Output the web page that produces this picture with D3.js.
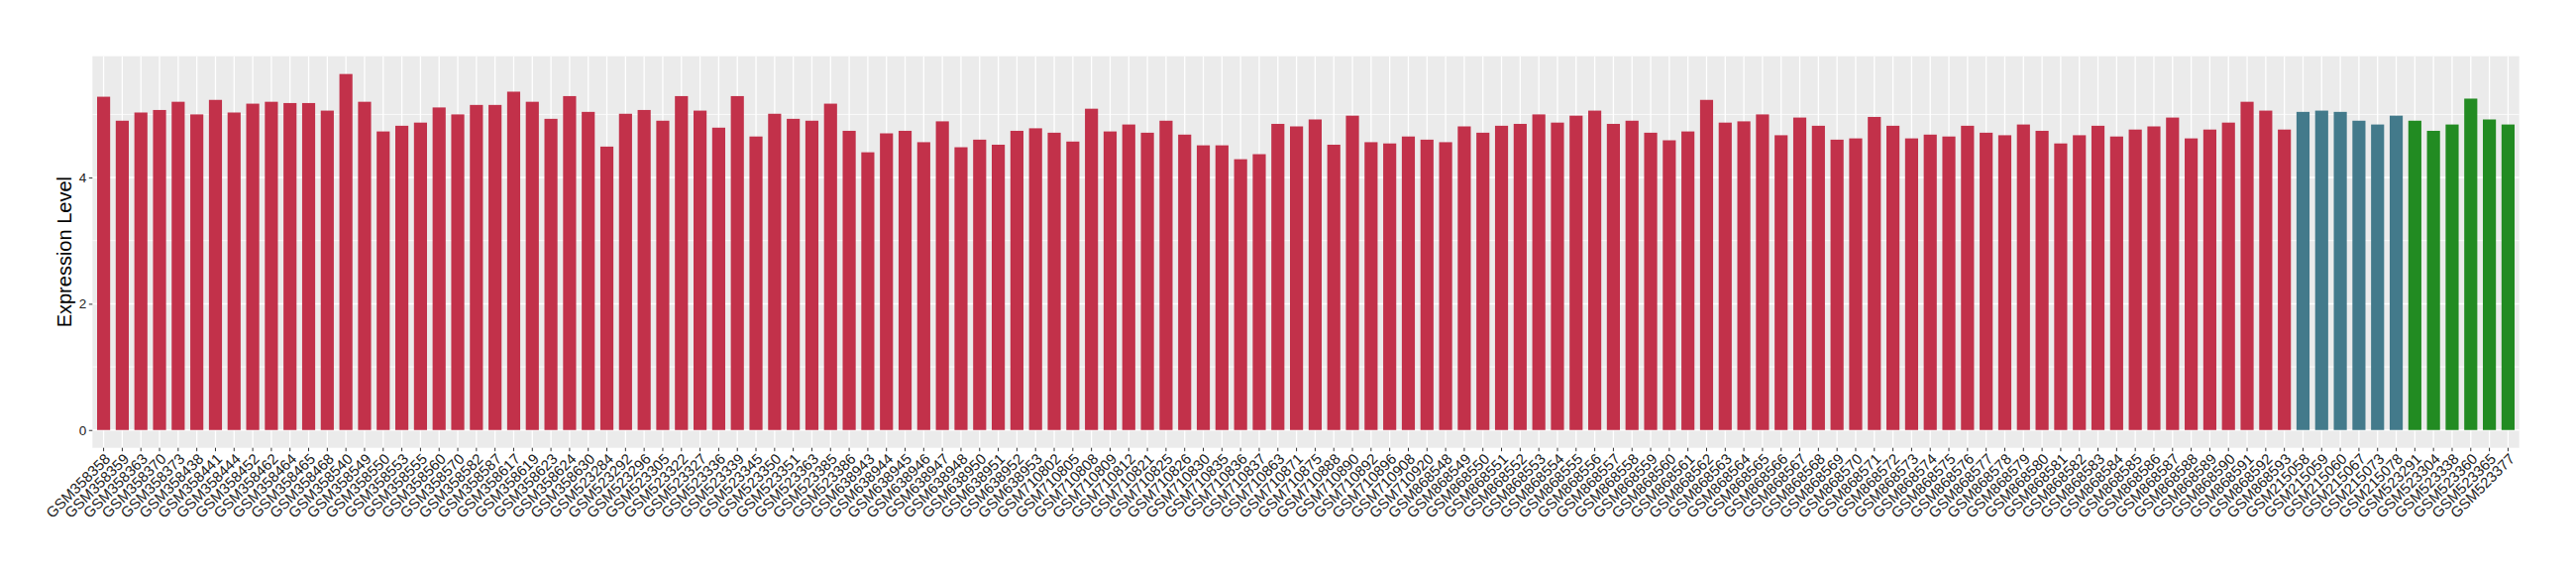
<!DOCTYPE html>
<html>
<head>
<meta charset="utf-8">
<script src="https://cdn.jsdelivr.net/npm/d3@7"></script>
<style>
  html, body { margin: 0; padding: 0; background: #fff; }
  svg { display: block; font-family: "Liberation Sans", Arial, Helvetica, sans-serif; }
</style>
</head>
<body>
<svg id="chart" width="2600" height="580"></svg>
<script>
// ---- data ----
const redSamples = [
  "GSM358358","GSM358359","GSM358363","GSM358370","GSM358373","GSM358438","GSM358441","GSM358444","GSM358452","GSM358462",
  "GSM358464","GSM358465","GSM358468","GSM358540","GSM358549","GSM358550","GSM358553","GSM358555","GSM358560","GSM358570",
  "GSM358582","GSM358587","GSM358617","GSM358619","GSM358623","GSM358624","GSM358630","GSM523284","GSM523292","GSM523296",
  "GSM523305","GSM523322","GSM523327","GSM523336","GSM523339","GSM523345","GSM523350","GSM523351","GSM523363","GSM523385",
  "GSM523386","GSM638943","GSM638944","GSM638945","GSM638946","GSM638947","GSM638948","GSM638950","GSM638951","GSM638952",
  "GSM638953","GSM710802","GSM710805","GSM710808","GSM710809","GSM710812","GSM710821","GSM710825","GSM710826","GSM710830",
  "GSM710835","GSM710836","GSM710837","GSM710863","GSM710871","GSM710875","GSM710888","GSM710890","GSM710892","GSM710896",
  "GSM710908","GSM710920","GSM868548","GSM868549","GSM868550","GSM868551","GSM868552","GSM868553","GSM868554","GSM868555",
  "GSM868556","GSM868557","GSM868558","GSM868559","GSM868560","GSM868561","GSM868562","GSM868563","GSM868564","GSM868565",
  "GSM868566","GSM868567","GSM868568","GSM868569","GSM868570","GSM868571","GSM868572","GSM868573","GSM868574","GSM868575",
  "GSM868576","GSM868577","GSM868578","GSM868579","GSM868580","GSM868581","GSM868582","GSM868583","GSM868584","GSM868585",
  "GSM868586","GSM868587","GSM868588","GSM868589","GSM868590","GSM868591","GSM868592","GSM868593"
];
const redValues = [
  5.28,4.90,5.03,5.07,5.20,5.00,5.23,5.03,5.17,5.20,
  5.18,5.18,5.06,5.64,5.20,4.73,4.82,4.87,5.11,5.00,
  5.15,5.15,5.36,5.20,4.93,5.29,5.04,4.49,5.01,5.07,
  4.90,5.29,5.06,4.79,5.29,4.65,5.01,4.93,4.90,5.17,
  4.74,4.40,4.70,4.74,4.56,4.89,4.48,4.60,4.52,4.74,
  4.78,4.71,4.57,5.09,4.73,4.84,4.71,4.90,4.68,4.51,
  4.51,4.29,4.37,4.85,4.81,4.92,4.52,4.98,4.56,4.54,
  4.65,4.60,4.56,4.81,4.71,4.82,4.85,5.00,4.87,4.98,
  5.06,4.85,4.90,4.71,4.59,4.73,5.23,4.87,4.89,5.00,
  4.67,4.95,4.82,4.60,4.62,4.96,4.82,4.62,4.68,4.65,
  4.82,4.71,4.67,4.84,4.74,4.54,4.67,4.82,4.65,4.76,
  4.81,4.95,4.62,4.76,4.87,5.20,5.06,4.76
];
const blueSamples = ["GSM215058","GSM215059","GSM215060","GSM215067","GSM215073","GSM215078"];
const blueValues  = [5.04,5.06,5.04,4.90,4.84,4.98];
const greenSamples = ["GSM523291","GSM523304","GSM523338","GSM523360","GSM523365","GSM523377"];
const greenValues  = [4.90,4.74,4.84,5.25,4.92,4.84];
const yTicks = [0, 2, 4];
const yMinorTicks = [1, 3, 5];
const yTitle = "Expression Level";

const groupColors = { red: "#C2314A", blue: "#437A8B", green: "#228B22" };

// table built from the arrays
const rows = [];
redSamples.forEach((s, i) => rows.push({ sample: s, value: redValues[i], group: "red" }));
blueSamples.forEach((s, i) => rows.push({ sample: s, value: blueValues[i], group: "blue" }));
greenSamples.forEach((s, i) => rows.push({ sample: s, value: greenValues[i], group: "green" }));

// ---- layout ----
const panel = { left: 93.3, right: 2542.7, top: 56.7, bottom: 451.7 };
const svg = d3.select("#chart");

const x = d3.scaleBand()
  .domain(rows.map(d => d.sample))
  .range([panel.left, panel.right])
  .paddingInner(0.3)
  .paddingOuter(0.25);

const maxV = d3.max(rows, d => d.value);
const y = d3.scaleLinear()
  .domain([-0.05 * maxV, 1.05 * maxV])
  .range([panel.bottom, panel.top]);

const cx = d => x(d) + x.bandwidth() / 2;

// panel background
svg.append("rect")
  .attr("x", panel.left).attr("y", panel.top)
  .attr("width", panel.right - panel.left)
  .attr("height", panel.bottom - panel.top)
  .attr("fill", "#EBEBEB");

// minor horizontal grid
svg.append("g").selectAll("line").data(yMinorTicks).join("line")
  .attr("x1", panel.left).attr("x2", panel.right)
  .attr("y1", d => y(d)).attr("y2", d => y(d))
  .attr("stroke", "#fff").attr("stroke-width", 0.8);

// major horizontal grid
svg.append("g").selectAll("line").data(yTicks).join("line")
  .attr("x1", panel.left).attr("x2", panel.right)
  .attr("y1", d => y(d)).attr("y2", d => y(d))
  .attr("stroke", "#fff").attr("stroke-width", 1.5);

// vertical grid
svg.append("g").selectAll("line").data(rows).join("line")
  .attr("x1", d => cx(d.sample)).attr("x2", d => cx(d.sample))
  .attr("y1", panel.top).attr("y2", panel.bottom)
  .attr("stroke", "#fff").attr("stroke-width", 1.3);

// bars
svg.append("g").selectAll("rect").data(rows).join("rect")
  .attr("x", d => x(d.sample))
  .attr("width", x.bandwidth())
  .attr("y", d => y(d.value))
  .attr("height", d => y(0) - y(d.value))
  .attr("fill", d => groupColors[d.group]);

// y axis
const yAxis = d3.axisLeft(y).tickValues(yTicks).tickSize(3.5).tickPadding(2.5).tickFormat(d3.format("d"));
const gy = svg.append("g").attr("transform", `translate(${panel.left},0)`).call(yAxis);
gy.select(".domain").remove();
gy.selectAll(".tick line").attr("stroke", "#333").attr("stroke-width", 1);
gy.selectAll(".tick text").attr("fill", "#222").attr("font-size", 13.5)
  .attr("font-family", "'Liberation Sans', Arial, sans-serif");

// x axis
const xAxis = d3.axisBottom(x).tickSize(3.5).tickPadding(0);
const gx = svg.append("g").attr("transform", `translate(0,${panel.bottom})`).call(xAxis);
gx.select(".domain").remove();
gx.selectAll(".tick line").attr("stroke", "#333").attr("stroke-width", 1);
gx.selectAll(".tick text")
  .attr("fill", "#222")
  .attr("font-size", 15)
  .attr("font-family", "'Liberation Sans', Arial, sans-serif")
  .attr("text-anchor", "end")
  .attr("y", 0)
  .attr("transform", "translate(0,4.5) rotate(-45)")
  .attr("dy", "0.72em");

// y title
svg.append("text")
  .attr("transform", `translate(${72},${(panel.top + panel.bottom) / 2}) rotate(-90)`)
  .attr("text-anchor", "middle")
  .attr("font-size", 20)
  .attr("fill", "#000")
  .text(yTitle);
</script>
</body>
</html>
